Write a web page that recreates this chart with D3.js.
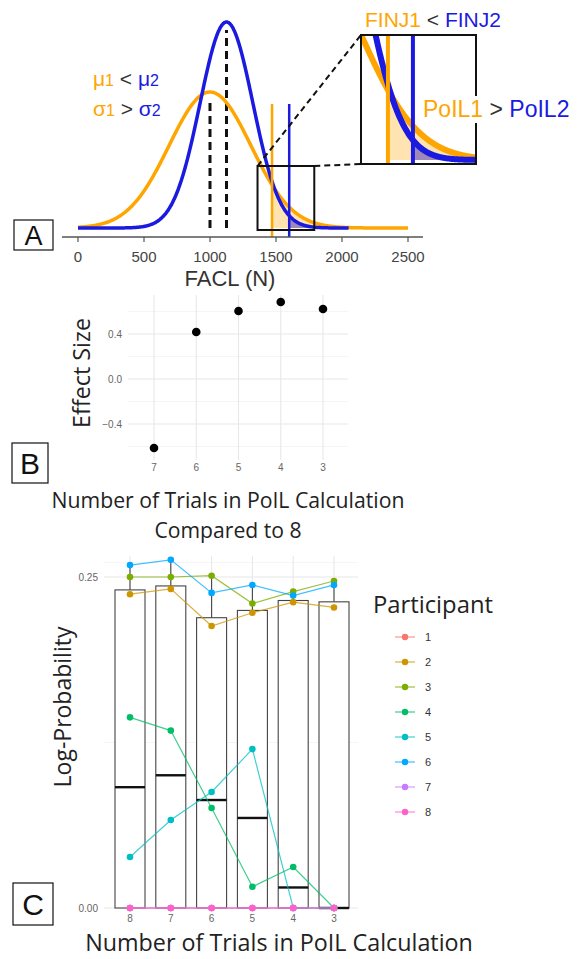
<!DOCTYPE html>
<html><head><meta charset="utf-8">
<script src="https://cdn.jsdelivr.net/npm/d3@7"></script>
<style>body{margin:0;background:#fff}svg{display:block}</style>
</head><body>
<svg id="c" width="578" height="959"></svg>
<script>
// ---------- Panel A data ----------
const distLabels = ["1", "2"];
const distMeans = [1000, 1125];
const distSDs = [310, 200];
const distPeaks = [0.66, 1.0];
const distEnds = [2500, 2050];
const finjValues = [1470, 1600];
const faclTicks = [0, 500, 1000, 1500, 2000, 2500];
const zoomWindow = [1360, 1790];
const insetWindow = [1330, 1928];

// ---------- Panel B data ----------
const bCats = ["7", "6", "5", "4", "3"];
const effectSize = [-0.613, 0.418, 0.604, 0.684, 0.622];
const bMajor = [-0.4, 0.0, 0.4];
const bMinor = [-0.6, -0.2, 0.2, 0.6];

// ---------- Panel C data ----------
const cCats = ["8", "7", "6", "5", "4", "3"];
const participants = ["1", "2", "3", "4", "5", "6", "7", "8"];
const p1 = [0, 0, 0, 0, 0, 0];
const p2 = [0.237, 0.241, 0.213, 0.223, 0.231, 0.227];
const p3 = [0.250, 0.250, 0.251, 0.230, 0.239, 0.247];
const p4 = [0.144, 0.134, 0.0755, 0.016, 0.031, 0];
const p5 = [0.0385, 0.0665, 0.0876, 0.120, 0, 0];
const p6 = [0.259, 0.263, 0.238, 0.244, 0.236, 0.244];
const p7 = [0, 0, 0, 0, 0, 0];
const p8 = [0, 0, 0, 0, 0, 0];
const cMajor = [0, 0.25];
const cMinor = [0.125, 0.261];

// ---------- styles ----------
const ORANGE = "#FFA500", BLUE = "#1a1ae0";
const distColors = [ORANGE, BLUE];
const hue = ["#F8766D", "#CD9600", "#7CAE00", "#00BE67", "#00BFC4", "#00A9FF", "#C77CFF", "#FF61CC"];
const SANS = "'Liberation Sans', Arial, sans-serif";
const LAB = "'Open Sans', sans-serif";

const svg = d3.select("#c");
svg.append("rect").attr("width", 578).attr("height", 959).attr("fill", "#fff");

function fitW(sel, w) {
  const fs = +sel.attr("font-size");
  const len = sel.node().getComputedTextLength();
  sel.attr("font-size", fs * w / len);
}
function gauss(i, x) {
  const d = x - distMeans[i];
  return distPeaks[i] * Math.exp(-d * d / (2 * distSDs[i] * distSDs[i]));
}
function labelBox(x, y, w, h, t, fs) {
  svg.append("rect").attr("x", x).attr("y", y).attr("width", w).attr("height", h)
    .attr("fill", "#fff").attr("stroke", "#111").attr("stroke-width", 1.2);
  svg.append("text").attr("x", x + w / 2).attr("y", y + h / 2).attr("dy", "0.36em")
    .attr("text-anchor", "middle").attr("font-family", SANS).attr("font-size", fs)
    .attr("fill", "#111").text(t);
}

// ================= PANEL A =================
const xA = d3.scaleLinear().domain([0, 2500]).range([78, 408]);
const yA = d3.scaleLinear().domain([0, 1]).range([228, 22]);

function drawDists(g, xs, ys, sw, vsw, vTop, vBottom, step) {
  [0, 1].forEach(i => {
    const pts = d3.range(finjValues[i], Math.min(distEnds[i], xs.domain()[1]) + step, step)
      .map(x => [x, gauss(i, x)]);
    g.append("path").datum(pts)
      .attr("d", d3.area().x(d => xs(d[0])).y0(ys(0)).y1(d => ys(d[1])))
      .attr("fill", i === 0 ? ORANGE : "#3b2cc0").attr("opacity", i === 0 ? 0.3 : 0.5);
  });
  [0, 1].forEach(i => {
    const lo = Math.max(0, xs.domain()[0]), hi = Math.min(distEnds[i], xs.domain()[1]);
    const pts = d3.range(lo, hi + step, step).map(x => [x, gauss(i, x)]);
    g.append("path").datum(pts)
      .attr("d", d3.line().x(d => xs(d[0])).y(d => ys(d[1])).curve(d3.curveBasis))
      .attr("fill", "none").attr("stroke", distColors[i]).attr("stroke-width", sw)
      .attr("stroke-linejoin", "round");
  });
  [0, 1].forEach(i => {
    g.append("line").attr("x1", xs(finjValues[i])).attr("x2", xs(finjValues[i]))
      .attr("y1", vTop).attr("y2", vBottom)
      .attr("stroke", distColors[i]).attr("stroke-width", vsw);
  });
}

const gA = svg.append("g");
[0, 1].forEach(i => {
  gA.append("line").attr("x1", xA(distMeans[i])).attr("x2", xA(distMeans[i]))
    .attr("y1", yA(0)).attr("y2", yA(distPeaks[i]) + 8)
    .attr("stroke", "#111").attr("stroke-width", 3).attr("stroke-dasharray", "8,5");
});
drawDists(gA, xA, yA, 3.5, 2.5, 104, 237, 5);

gA.append("line").attr("x1", 62).attr("x2", 423).attr("y1", 237).attr("y2", 237)
  .attr("stroke", "#555").attr("stroke-width", 1.5);
faclTicks.forEach(t => {
  gA.append("line").attr("x1", xA(t)).attr("x2", xA(t)).attr("y1", 237).attr("y2", 242)
    .attr("stroke", "#555").attr("stroke-width", 1.2);
  gA.append("text").attr("x", xA(t)).attr("y", 262).attr("text-anchor", "middle")
    .attr("font-family", SANS).attr("font-size", 15).attr("fill", "#444").text(t);
});
gA.append("text").attr("x", 230).attr("y", 286).attr("text-anchor", "middle")
  .attr("font-family", SANS).attr("font-size", 22).attr("fill", "#333").text("FACL (N)");

const zx0 = xA(zoomWindow[0]), zx1 = xA(zoomWindow[1]);
const IX0 = 361, IX1 = 476, IY0 = 35, IY1 = 164;
gA.append("rect").attr("x", zx0).attr("y", 166).attr("width", zx1 - zx0).attr("height", 64)
  .attr("fill", "none").attr("stroke", "#111").attr("stroke-width", 2);
gA.append("line").attr("x1", zx0).attr("y1", 166).attr("x2", IX0).attr("y2", IY0)
  .attr("stroke", "#111").attr("stroke-width", 2).attr("stroke-dasharray", "6,4");
gA.append("line").attr("x1", zx1).attr("y1", 166).attr("x2", IX0).attr("y2", IY1)
  .attr("stroke", "#111").attr("stroke-width", 2).attr("stroke-dasharray", "6,4");

const xI = d3.scaleLinear().domain(insetWindow).range([IX0, IX1]);
const yI = d3.scaleLinear().domain([0, 0.373]).range([160, IY0]);
svg.append("clipPath").attr("id", "ic").append("rect")
  .attr("x", IX0).attr("y", IY0).attr("width", IX1 - IX0).attr("height", IY1 - IY0);
gA.append("rect").attr("x", IX0).attr("y", IY0).attr("width", IX1 - IX0).attr("height", IY1 - IY0)
  .attr("fill", "#fff");
const gI = gA.append("g").attr("clip-path", "url(#ic)");
drawDists(gI, xI, yI, 6, 4, IY0, IY1, 3);
gA.append("rect").attr("x", IX0).attr("y", IY0).attr("width", IX1 - IX0).attr("height", IY1 - IY0)
  .attr("fill", "none").attr("stroke", "#111").attr("stroke-width", 2);

function colored(x, y, fs, parts, subFs) {
  const t = gA.append("text").attr("x", x).attr("y", y).attr("font-family", SANS).attr("font-size", fs);
  parts.forEach(p => {
    const ts = t.append("tspan").attr("fill", p[1]).text(p[0]);
    if (p[2]) ts.attr("font-size", subFs);
  });
  return t;
}
colored(93, 86, 21, [["μ", ORANGE], ["1", ORANGE, 1], [" < ", "#333"], ["μ", BLUE], ["2", BLUE, 1]], 16);
colored(93, 116, 21, [["σ", ORANGE], ["1", ORANGE, 1], [" > ", "#333"], ["σ", BLUE], ["2", BLUE, 1]], 16);
colored(365, 27, 21, [["FINJ1", ORANGE], [" < ", "#333"], ["FINJ2", BLUE]]);
gA.append("rect").attr("x", 420).attr("y", 96).attr("width", 152).attr("height", 27).attr("fill", "#fff");
colored(423, 117, 23, [["PoIL1", ORANGE], [" > ", "#333"], ["PoIL2", BLUE]]);

labelBox(14, 220, 39, 30, "A", 27);

// ================= PANEL B =================
const xB = d3.scalePoint().domain(bCats).range([154, 323]);
const yB = d3.scaleLinear().domain([-0.4, 0.4]).range([424, 334]);
const BX0 = 128, BX1 = 348, BY0 = 295, BY1 = 460;
const gB = svg.append("g");
bMinor.forEach(v => gB.append("line").attr("x1", BX0).attr("x2", BX1).attr("y1", yB(v)).attr("y2", yB(v))
  .attr("stroke", "#f2f2f2").attr("stroke-width", 0.8));
bMajor.forEach(v => gB.append("line").attr("x1", BX0).attr("x2", BX1).attr("y1", yB(v)).attr("y2", yB(v))
  .attr("stroke", "#e8e8e8").attr("stroke-width", 1.1));
bCats.forEach(c => gB.append("line").attr("x1", xB(c)).attr("x2", xB(c)).attr("y1", BY0).attr("y2", BY1)
  .attr("stroke", "#e8e8e8").attr("stroke-width", 1.1));
bMajor.forEach(v => gB.append("text").attr("x", 122).attr("y", yB(v)).attr("dy", "0.35em")
  .attr("text-anchor", "end").attr("font-family", SANS).attr("font-size", 10).attr("fill", "#666")
  .text(d3.format(".1f")(v)));
bCats.forEach(c => gB.append("text").attr("x", xB(c)).attr("y", 471).attr("text-anchor", "middle")
  .attr("font-family", SANS).attr("font-size", 10).attr("fill", "#666").text(c));
gB.selectAll("circle").data(effectSize).join("circle")
  .attr("cx", (d, i) => xB(bCats[i])).attr("cy", d => yB(d)).attr("r", 4.3).attr("fill", "#000");
fitW(gB.append("text").attr("transform", "translate(90,373) rotate(-90)").attr("text-anchor", "middle")
  .attr("font-family", LAB).attr("font-size", 21).attr("fill", "#222").text("Effect Size"), 110);
fitW(gB.append("text").attr("x", 228).attr("y", 508).attr("text-anchor", "middle")
  .attr("font-family", LAB).attr("font-size", 20).attr("fill", "#222").text("Number of Trials in PoIL Calculation"), 353);
fitW(gB.append("text").attr("x", 228).attr("y", 538).attr("text-anchor", "middle")
  .attr("font-family", LAB).attr("font-size", 20).attr("fill", "#222").text("Compared to 8"), 147);
labelBox(12, 443, 36, 40, "B", 30);

// ================= PANEL C =================
const series = [p1, p2, p3, p4, p5, p6, p7, p8];
const xC = d3.scalePoint().domain(cCats).range([130, 334]);
const yC = d3.scaleLinear().domain([0, 0.25]).range([908, 577]);
const CX0 = 104, CX1 = 358, CY0 = 556, CY1 = 912;
const gC = svg.append("g");
cMinor.forEach(v => gC.append("line").attr("x1", CX0).attr("x2", CX1).attr("y1", yC(v)).attr("y2", yC(v))
  .attr("stroke", "#f2f2f2").attr("stroke-width", 0.8));
cMajor.forEach(v => gC.append("line").attr("x1", CX0).attr("x2", CX1).attr("y1", yC(v)).attr("y2", yC(v))
  .attr("stroke", "#e8e8e8").attr("stroke-width", 1.1));
cCats.forEach(c => gC.append("line").attr("x1", xC(c)).attr("x2", xC(c)).attr("y1", CY0).attr("y2", CY1)
  .attr("stroke", "#e8e8e8").attr("stroke-width", 1.1));
cMajor.forEach(v => gC.append("text").attr("x", 98).attr("y", yC(v)).attr("dy", "0.35em")
  .attr("text-anchor", "end").attr("font-family", SANS).attr("font-size", 10).attr("fill", "#666")
  .text(d3.format(".2f")(v)));
cCats.forEach(c => gC.append("text").attr("x", xC(c)).attr("y", 922).attr("text-anchor", "middle")
  .attr("font-family", SANS).attr("font-size", 10).attr("fill", "#666").text(c));

const bw = 30;
cCats.forEach((c, j) => {
  const vals = series.map(s => s[j]).sort(d3.ascending);
  const q1 = d3.quantile(vals, 0.25), med = d3.quantile(vals, 0.5), q3 = d3.quantile(vals, 0.75);
  const iqr = q3 - q1;
  const hiW = d3.max(vals.filter(v => v <= q3 + 1.5 * iqr));
  const loW = d3.min(vals.filter(v => v >= q1 - 1.5 * iqr));
  const x = xC(c);
  gC.append("line").attr("x1", x).attr("x2", x).attr("y1", yC(q3)).attr("y2", yC(hiW))
    .attr("stroke", "#444").attr("stroke-width", 1.1);
  gC.append("line").attr("x1", x).attr("x2", x).attr("y1", yC(q1)).attr("y2", yC(loW))
    .attr("stroke", "#444").attr("stroke-width", 1.1);
  gC.append("rect").attr("x", x - bw / 2).attr("y", yC(q3)).attr("width", bw).attr("height", yC(q1) - yC(q3))
    .attr("fill", "#fff").attr("stroke", "#444").attr("stroke-width", 1.1);
  gC.append("line").attr("x1", x - bw / 2).attr("x2", x + bw / 2).attr("y1", yC(med)).attr("y2", yC(med))
    .attr("stroke", "#111").attr("stroke-width", 2.4);
});
series.forEach((s, k) => {
  gC.append("path").datum(s)
    .attr("d", d3.line().x((d, i) => xC(cCats[i])).y(d => yC(d)))
    .attr("fill", "none").attr("stroke", hue[k]).attr("stroke-width", 1.2).attr("opacity", 0.75);
});
series.forEach((s, k) => {
  gC.append("g").selectAll("circle").data(s).join("circle")
    .attr("cx", (d, i) => xC(cCats[i])).attr("cy", d => yC(d)).attr("r", 3.3).attr("fill", hue[k]);
});
fitW(gC.append("text").attr("transform", "translate(71,707) rotate(-90)").attr("text-anchor", "middle")
  .attr("font-family", LAB).attr("font-size", 21).attr("fill", "#222").text("Log-Probability"), 161);
fitW(gC.append("text").attr("x", 279).attr("y", 951).attr("text-anchor", "middle")
  .attr("font-family", LAB).attr("font-size", 21).attr("fill", "#222").text("Number of Trials in PoIL Calculation"), 388);

fitW(gC.append("text").attr("x", 373).attr("y", 613).attr("font-family", LAB).attr("font-size", 20)
  .attr("fill", "#222").text("Participant"), 120);
participants.forEach((p, k) => {
  const y = 637 + k * 25;
  gC.append("line").attr("x1", 395).attr("x2", 415).attr("y1", y).attr("y2", y)
    .attr("stroke", hue[k]).attr("stroke-width", 1.2).attr("opacity", 0.75);
  gC.append("circle").attr("cx", 405).attr("cy", y).attr("r", 3.2).attr("fill", hue[k]);
  gC.append("text").attr("x", 425).attr("y", y).attr("dy", "0.36em").attr("font-family", SANS)
    .attr("font-size", 11).attr("fill", "#333").text(p);
});
labelBox(13, 883, 40, 42, "C", 30);
</script>
</body></html>
